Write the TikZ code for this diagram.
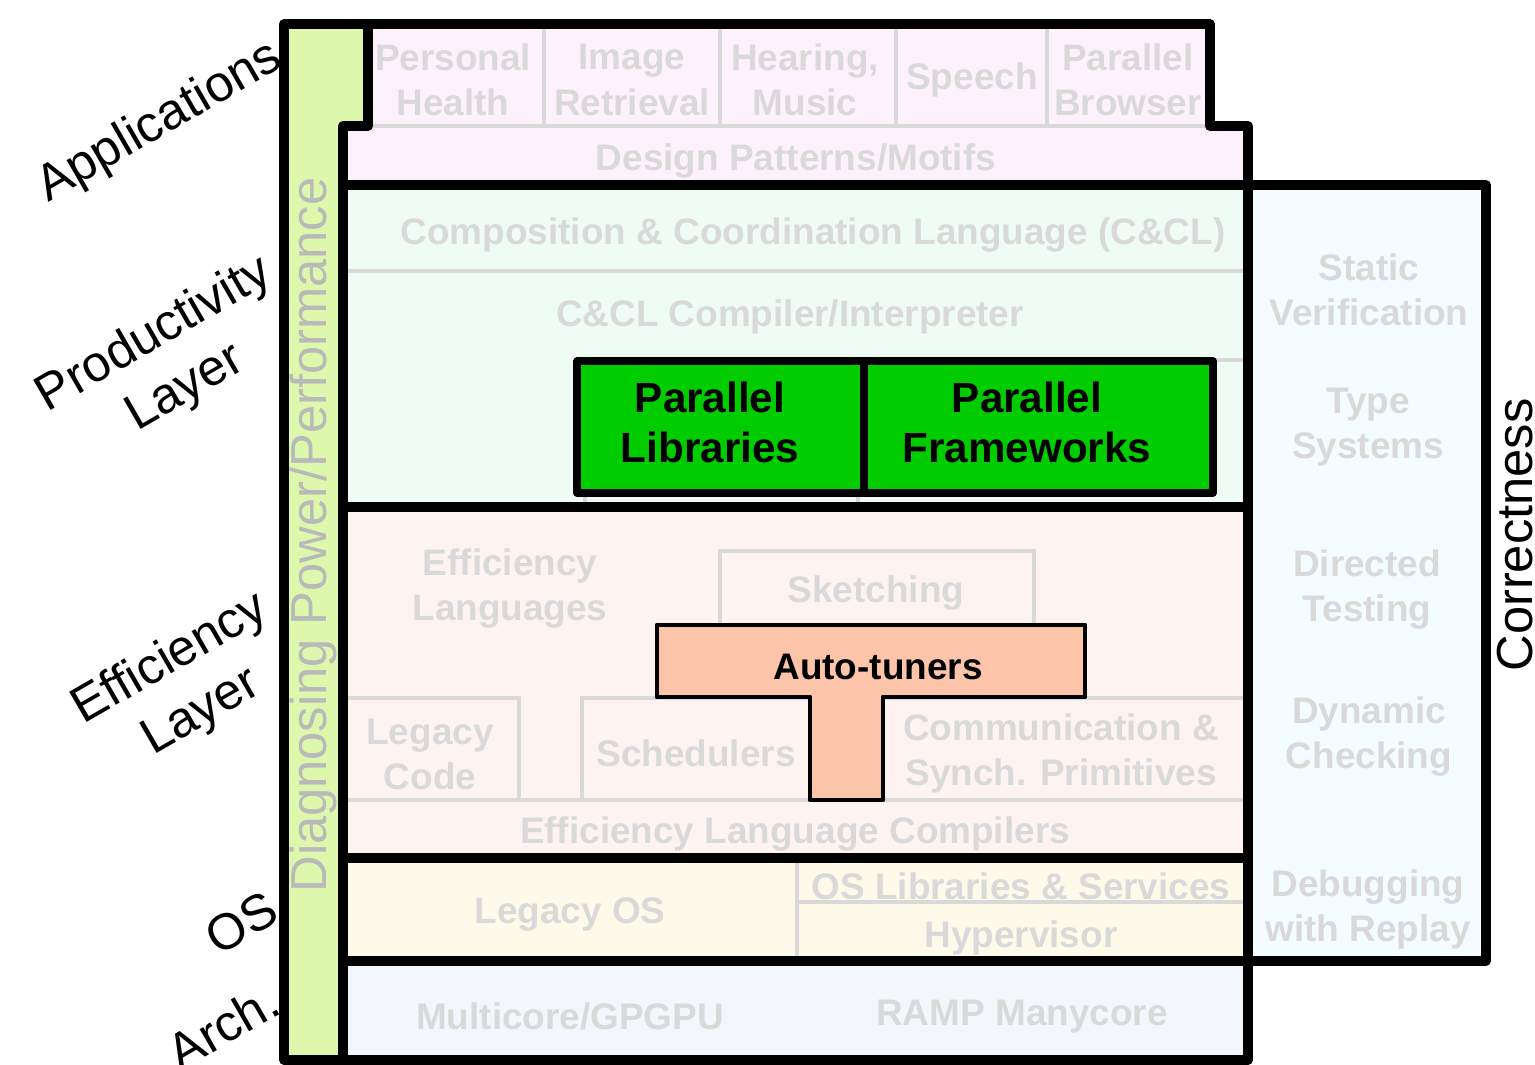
\documentclass[tikz,border=0pt]{standalone}
\usepackage{fontspec}
\setmainfont{Liberation Sans}
\definecolor{txtgray}{RGB}{217,217,217}
\definecolor{appfill}{RGB}{253,242,252}
\definecolor{prodfill}{RGB}{239,251,245}
\definecolor{efffill}{RGB}{253,244,242}
\definecolor{osfill}{RGB}{254,250,234}
\definecolor{archfill}{RGB}{243,247,251}
\definecolor{corrfill}{RGB}{243,252,254}
\definecolor{stripfill}{RGB}{221,248,172}
\definecolor{libgreen}{RGB}{0,204,0}
\definecolor{tunerfill}{RGB}{252,197,170}
\definecolor{diaggray}{RGB}{185,185,185}
\tikzset{
  gtext/.style={font=\bfseries\fontsize{10.5}{12.8}\selectfont, text=txtgray, align=center, inner sep=0pt},
  btext/.style={font=\bfseries\fontsize{12}{14.2}\selectfont, align=center, inner sep=0pt},
  side/.style={font=\fontsize{14.4}{17.5}\selectfont, align=center, inner sep=0pt},
  gline/.style={draw=txtgray, line width=1.1pt},
  frame/.style={draw=black, line width=2.8pt, line join=round},
}
\begin{document}
\begin{tikzpicture}[x=0.01cm, y=-0.01cm]
  \useasboundingbox (0,0) rectangle (1535,1065);

  % layer fills
  \fill[appfill] (368,24) rectangle (1210,126);
  \fill[appfill] (343,126) rectangle (1248,185);
  \fill[prodfill] (343,185) rectangle (1248,507);
  \fill[efffill] (343,507) rectangle (1248,858);
  \fill[osfill] (343,858) rectangle (1248,961);
  \fill[archfill] (343,961) rectangle (1248,1060);
  \fill[corrfill] (1248,185) rectangle (1486,961);
  \fill[stripfill] (284,24) -- (368,24) -- (368,126) -- (343,126) -- (343,1060) -- (284,1060) -- cycle;

  % light boxes
  \foreach \x in {544,720,896,1047}
    \draw[gline] (\x,24) -- (\x,126);
  \draw[gline] (368,126) -- (1210,126);
  \draw[gline] (343,271) -- (1248,271);
  \draw[gline] (585,360) rectangle (1248,507);
  \draw[gline] (858,360) -- (858,507);
  \draw[gline] (720,551) rectangle (1034,640);
  \draw[gline] (343,698) rectangle (519,800);
  \draw[gline] (582,698) rectangle (1248,800);
  \draw[gline] (343,800) -- (1248,800);
  \draw[gline] (797,858) -- (797,961);
  \draw[gline] (797,902) -- (1248,902);

  % applications
  \node[gtext] (health) at (453,80) {Personal\\Health};
  \node[gtext] (image) at (632,80) {Image\\Retrieval};
  \node[gtext] (music) at (805,80) {Hearing,\\Music};
  \node[gtext] (speech) at (972,80) {Speech};
  \node[gtext] (browser) at (1128,80) {Parallel\\Browser};
  \node[gtext] (motifs) at (796,161) {Design Patterns/Motifs};

  % productivity layer
  \node[gtext] (ccl) at (813,235) {Composition \& Coordination Language (C\&CL)};
  \node[gtext] (compiler) at (790,317) {C\&CL Compiler/Interpreter};

  % efficiency layer
  \node[gtext] (efflang) at (510,589) {Efficiency\\Languages};
  \node[gtext] (sketch) at (876,593) {Sketching};
  \node[gtext] (legacy) at (430,754) {Legacy\\Code};
  \node[gtext] (sched) at (696,753) {Schedulers};
  \node[gtext] (comm) at (1061,753) {Communication \&\\Synch. Primitives};
  \node[gtext] (effcomp) at (795,834) {Efficiency Language Compilers};

  % OS and arch
  \node[gtext] (legacyos) at (570,915) {Legacy OS};
  \node[gtext] (oslib) at (1021,886) {OS Libraries \& Services};
  \node[gtext] (hyper) at (1021,938) {Hypervisor};
  \node[gtext] (multicore) at (570,1017) {Multicore/GPGPU};
  \node[gtext] (ramp) at (1022,1017) {RAMP Manycore};

  % correctness column
  \node[gtext] (static) at (1369,290) {Static\\Verification};
  \node[gtext] (types) at (1368,427) {Type\\Systems};
  \node[gtext] (testing) at (1367,590) {Directed\\Testing};
  \node[gtext] (dynamic) at (1369,737) {Dynamic\\Checking};
  \node[gtext] (replay) at (1368,909) {Debugging\\with Replay};

  % black frame
  \draw[frame] (284,24) -- (1210,24) -- (1210,126) -- (1248,126) -- (1248,1060) -- (284,1060) -- cycle;
  \draw[frame] (368,24) -- (368,126) -- (343,126) -- (343,1060);
  \draw[frame] (343,185) -- (1486,185) -- (1486,961) -- (343,961);
  \draw[frame] (343,507) -- (1248,507);
  \draw[frame] (343,858) -- (1248,858);

  % highlighted parts
  \draw[fill=libgreen, line width=2pt, line join=round] (577,361) rectangle (864,493);
  \draw[fill=libgreen, line width=2pt, line join=round] (864,361) rectangle (1213,493);
  \node[btext] (parlib) at (710,422) {Parallel\\Libraries};
  \node[btext] (parfw) at (1027,422) {Parallel\\Frameworks};
  \draw[fill=tunerfill, line width=1.4pt, line join=round] (657,625) -- (1085,625) -- (1085,697) -- (883,697)
    -- (883,800) -- (810,800) -- (810,697) -- (657,697) -- cycle; % T shape
  \node[font=\bfseries\fontsize{10.5}{12.8}\selectfont, inner sep=0pt] (tuners) at (878,667) {Auto-tuners};

  % side labels
  \node[side, rotate=90, text=diaggray] (diag) at (313,535) {Diagnosing Power/Performance};
  \node[side, rotate=90] (correct) at (1515,535) {Correctness};
  \node[side, rotate=30] (appl) at (160,123) {Applications};
  \node[side, rotate=30] (prod) at (170,362) {Productivity\\Layer};
  \node[side, rotate=30] (eff) at (186,686) {Efficiency\\Layer};
  \node[side, rotate=30] (os) at (241,923) {OS};
  \node[side, rotate=30] (arch) at (223,1026) {Arch.};
\end{tikzpicture}
\end{document}
